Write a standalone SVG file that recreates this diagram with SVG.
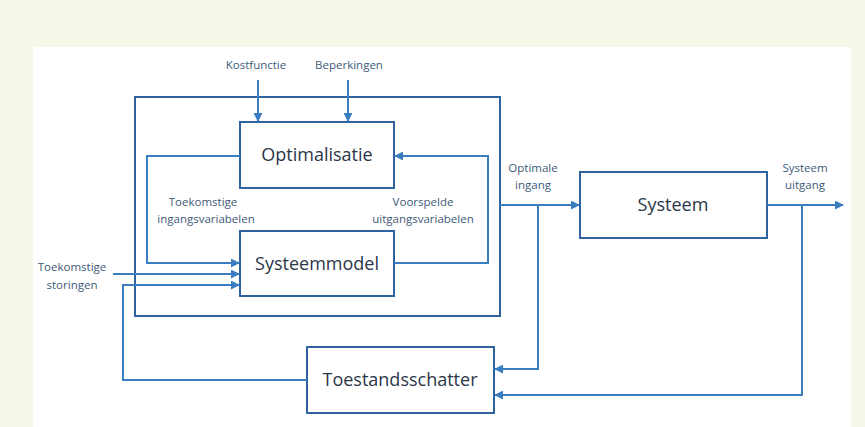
<svg xmlns="http://www.w3.org/2000/svg" width="865" height="427" viewBox="0 0 865 427">
<style>
.bx{fill:#fff;stroke:#2f62a0;stroke-width:2}
.ln{fill:none;stroke:#3a7dc0;stroke-width:2}
.t{font-family:"Open Sans","Liberation Sans",sans-serif;font-size:18px;fill:#2b3648;text-anchor:middle}
.l{font-family:"Open Sans","Liberation Sans",sans-serif;font-size:11.5px;fill:#3e5a78;text-anchor:middle}
</style>
<defs>
<marker id="a" viewBox="0 0 10 10" refX="9" refY="5" markerWidth="4.5" markerHeight="4.5" orient="auto" markerUnits="strokeWidth">
<path d="M0,0 L10,5 L0,10 Z" fill="#3a7dc0"/>
</marker>
</defs>
<rect x="0" y="0" width="865" height="427" fill="#f6f7e9"/>
<rect x="33" y="47" width="818" height="380" fill="#fff"/>
<g id="mpc"><rect class="bx" x="135" y="97" width="365" height="219"/></g>
<g id="optimalisatie"><rect class="bx" x="240" y="122" width="154" height="66"/><text class="t" x="317" y="161">Optimalisatie</text></g>
<g id="systeemmodel"><rect class="bx" x="240" y="231" width="154" height="65"/><text class="t" x="317" y="270">Systeemmodel</text></g>
<g id="systeem"><rect class="bx" x="580" y="172" width="187" height="66"/><text class="t" x="673" y="211">Systeem</text></g>
<g id="toestandsschatter"><rect class="bx" x="307" y="347" width="187" height="66"/><text class="t" x="400" y="386">Toestandsschatter</text></g>
<g id="connectors">
<path class="ln" d="M258,80 V121" marker-end="url(#a)"/>
<path class="ln" d="M348,80 V121" marker-end="url(#a)"/>
<path class="ln" d="M240,156 H147 V263 H239" marker-end="url(#a)"/>
<path class="ln" d="M394,263 H488 V156 H395" marker-end="url(#a)"/>
<path class="ln" d="M113,274 H239" marker-end="url(#a)"/>
<path class="ln" d="M307,380 H123 V285 H239" marker-end="url(#a)"/>
<path class="ln" d="M500,205 H579" marker-end="url(#a)"/>
<path class="ln" d="M538,205 V369 H495" marker-end="url(#a)"/>
<path class="ln" d="M767,205 H843" marker-end="url(#a)"/>
<path class="ln" d="M802,205 V395 H495" marker-end="url(#a)"/>
</g>
<g id="labels">
<text class="l" x="256" y="69">Kostfunctie</text>
<text class="l" x="349" y="69">Beperkingen</text>
<text class="l" x="203" y="206">Toekomstige</text>
<text class="l" x="206" y="223">ingangsvariabelen</text>
<text class="l" x="423" y="206">Voorspelde</text>
<text class="l" x="423" y="223">uitgangsvariabelen</text>
<text class="l" x="72" y="271">Toekomstige</text>
<text class="l" x="72" y="289">storingen</text>
<text class="l" x="533" y="172">Optimale</text>
<text class="l" x="533" y="189">ingang</text>
<text class="l" x="805" y="172">Systeem</text>
<text class="l" x="805" y="189">uitgang</text>
</g>
</svg>
